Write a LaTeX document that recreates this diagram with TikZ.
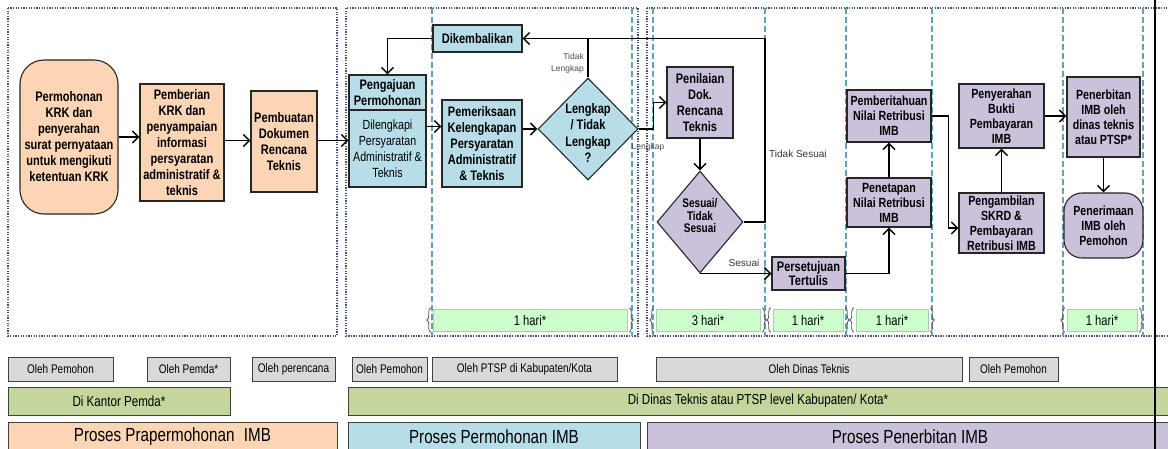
\documentclass[tikz,border=0pt]{standalone}
\usepackage{fontspec}
\setmainfont{Liberation Sans}[FakeStretch=0.8]
\newfontfamily\plainsans{Liberation Sans}
\usetikzlibrary{arrows.meta,shapes.geometric,decorations.pathreplacing}
\definecolor{cOr}{HTML}{FCD5B5}
\definecolor{cBl}{HTML}{B7DEE8}
\definecolor{cPu}{HTML}{CCC1DA}
\definecolor{cGr}{HTML}{D9D9D9}
\definecolor{cGn}{HTML}{C3D69B}
\definecolor{cLg}{HTML}{CCFFCC}
\definecolor{cDot}{HTML}{3F4F7F}
\definecolor{cDash}{HTML}{5FA3B5}
\tikzset{
  box/.style={draw=black!85, line width=1.1pt, align=center, inner sep=1pt,
    font=\bfseries\fontsize{13.8}{16}\selectfont},
  boxs/.style={box, font=\bfseries\fontsize{13.3}{15}\selectfont},
  boxr/.style={box, font=\fontsize{13.3}{16}\selectfont},
  por/.style={fill=cOr}, pbl/.style={fill=cBl}, ppu/.style={fill=cPu},
  dia/.style={diamond, draw=black!85, line width=1.1pt, inner sep=0pt},
  diatext/.style={align=center, inner sep=0pt},
  dotframe/.style={draw=cDot, line width=1.6pt, dash pattern=on 1.3pt off 1.3pt},
  dashline/.style={draw=cDash, line width=1.1pt, dash pattern=on 6pt off 3pt},
  conn/.style={line width=1.5pt, -{Straight Barb[length=6pt,width=12pt,line width=1.5pt]}},
  plainline/.style={line width=1.5pt},
  hari/.style={fill=cLg, draw=cLg!60!gray, line width=0.5pt, inner sep=0pt,
    minimum height=22, font=\fontsize{14}{16}\selectfont},
  brc/.style={draw=black!65, line width=0.8pt, decorate, decoration={brace,amplitude=4pt}},
  lbl/.style={inner sep=0pt, text=black!80, font=\plainsans\fontsize{10}{12}\selectfont},
  lbls/.style={inner sep=0pt, text=black!70, align=right, font=\plainsans\fontsize{8.5}{12}\selectfont},
  gbox/.style={fill=cGr, draw=black!75, line width=1pt, minimum height=24, inner sep=0pt,
    font=\fontsize{12.5}{14}\selectfont},
  kbox/.style={fill=cGn, draw=black!75, line width=1pt, minimum height=28, inner sep=0pt,
    font=\fontsize{14.5}{16}\selectfont},
  pbox/.style={draw=black!75, line width=1pt, minimum height=30, inner sep=0pt,
    font=\fontsize{19}{21}\selectfont},
}
\begin{document}
\begin{tikzpicture}[x=1pt,y=-1pt]
\clip (0,0) rectangle (1168,449);
\fill[white] (0,0) rectangle (1168,449);

% frames
\draw[dotframe] (8,8) rectangle (337,336);
\draw[dotframe] (346,8) rectangle (638,336);
\draw[dotframe] (647,8) rectangle (1185,336);
\foreach \x in {432,632,653,765,846,932,1063,1143}
  \draw[dashline] (\x,8) -- (\x,336);

% hari boxes
\node[hari, minimum width=194] (h1) at (530,320) {1 hari*};
\node[hari, minimum width=104] (h2) at (708,320) {3 hari*};
\node[hari, minimum width=70]  (h3) at (808,320) {1 hari*};
\node[hari, minimum width=72]  (h4) at (892,320) {1 hari*};
\node[hari, minimum width=70]  (h5) at (1102,320) {1 hari*};
\foreach \h in {h1,h2,h3,h4,h5}{
  \draw[brc] ([xshift=-2pt,yshift=-1pt]\h.south west) -- ([xshift=-2pt,yshift=1pt]\h.north west);
  \draw[brc] ([xshift=2pt,yshift=1pt]\h.north east) -- ([xshift=2pt,yshift=-1pt]\h.south east);
}

% Prapermohonan
\node[box, por, rounded corners=24, minimum width=98, minimum height=154] (permo) at (69,137)
  {Permohonan\\KRK dan\\penyerahan\\surat pernyataan\\untuk mengikuti\\ketentuan KRK};
\node[box, por, minimum width=84, minimum height=117] (pemb) at (182,142.5)
  {Pemberian\\KRK dan\\penyampaian\\informasi\\persyaratan\\administratif \&\\teknis};
\node[box, por, minimum width=66, minimum height=101] (pembuat) at (284,141.5)
  {Pembuatan\\Dokumen\\Rencana\\Teknis};

% Permohonan
\node[box, pbl, minimum width=77, minimum height=35] (pgh) at (387.5,92.5)
  {Pengajuan\\Permohonan};
\node[boxr, pbl, minimum width=77, minimum height=77] (pgl) at (387.5,148.5)
  {Dilengkapi\\Persyaratan\\Administratif \&\\Teknis};
\node[box, pbl, minimum width=80, minimum height=87] (pem) at (482,143.5)
  {Pemeriksaan\\Kelengkapan\\Persyaratan\\Administratif\\\& Teknis};
\node[dia, fill=cBl, minimum width=100, minimum height=102] (lk) at (588,129) {};
\node[diatext, font=\bfseries\fontsize{13.8}{16.5}\selectfont] (lkt) at (588,133)
  {Lengkap\\/ Tidak\\Lengkap\\?};
\node[box, pbl, minimum width=89, minimum height=27] (dik) at (477.5,38.5) {Dikembalikan};

% Penerbitan
\node[box, ppu, minimum width=66, minimum height=71] (pen) at (700,102.5)
  {Penilaian\\Dok.\\Rencana\\Teknis};
\node[dia, fill=cPu, minimum width=86, minimum height=102] (ss) at (700,222) {};
\node[diatext, font=\bfseries\fontsize{12.5}{12.5}\selectfont] (sst) at (700,216)
  {Sesuai/\\Tidak\\Sesuai};
\node[box, ppu, minimum width=73, minimum height=33, font=\bfseries\fontsize{13.8}{14}\selectfont] (per) at (808.5,273.5)
  {Persetujuan\\Tertulis};
\node[box, ppu, minimum width=84, minimum height=49, font=\bfseries\fontsize{13.3}{15}\selectfont] (pet) at (889,202.5)
  {Penetapan\\Nilai Retribusi\\IMB};
\node[box, ppu, minimum width=84, minimum height=52, font=\bfseries\fontsize{13.3}{15}\selectfont] (pbt) at (889,116)
  {Pemberitahuan\\Nilai Retribusi\\IMB};
\node[boxs, ppu, minimum width=85, minimum height=60] (pga) at (1001.5,223)
  {Pengambilan\\SKRD \&\\Pembayaran\\Retribusi IMB};
\node[boxs, ppu, minimum width=85, minimum height=64] (pys) at (1001.5,116)
  {Penyerahan\\Bukti\\Pembayaran\\IMB};
\node[boxs, ppu, minimum width=73, minimum height=80] (pnb) at (1103.5,117)
  {Penerbitan\\IMB oleh\\dinas teknis\\atau PTSP*};
\node[boxs, ppu, rounded corners=18, minimum width=79, minimum height=65] (pnm) at (1103.5,225.5)
  {Penerimaan\\IMB oleh\\Pemohon};

% connectors
\coordinate (ts) at (765,38.5);
\draw[conn] (permo.east) -- (permo.east -| pemb.west);
\draw[conn] ([yshift=2pt]pemb.east) -- ([yshift=2pt]pemb.east -| pembuat.west);
\draw[conn] ([yshift=1pt]pembuat.east) -- ([yshift=1pt]pembuat.east -| pgl.west);
\draw[conn] ([yshift=22pt]pgl.east) -- ([yshift=22pt]pgl.east -| pem.west);
\draw[conn] (lk.west -| pem.east) -- (lk.west);
\draw[plainline] (lk.north) -- (lk.north |- dik.east);
\draw[conn] (ss.east) -| (ts) -- (dik.east);
\draw[conn] (dik.west) -| (pgh.north);
\draw[conn] (lk.east) -- ++(15,0) |- (pen.west);
\draw[conn] (pen.south) -- (ss.north);
\draw[conn] (ss.south) -- (ss.south -| per.west);
\draw[conn] (per.east) -| (pet.south);
\draw[conn] (pet.north) -- (pbt.south);
\draw[conn] (pbt.east) -- ++(17,0) |- ([yshift=-5pt]pga.west);
\draw[conn] (pga.north) -- (pys.south);
\draw[conn] (pys.east) -- (pys.east -| pnb.west);
\draw[conn] (pnb.south) -- (pnm.north);

% labels
\node[lbls, anchor=east] (ltl) at (584,63) {Tidak\\Lengkap};
\node[lbls] (ll) at (648,147) {Lengkap};
\node[lbl, anchor=west] (lts) at (769,154) {Tidak Sesuai};
\node[lbl] (ls) at (744,263) {Sesuai};

% bottom rows
\node[gbox, minimum width=105] (g1) at (60.5,369) {Oleh Pemohon};
\node[gbox, minimum width=83]  (g2) at (188.5,369) {Oleh Pemda*};
\node[gbox, minimum width=83]  (g3) at (293.5,369) {Oleh perencana};
\node[gbox, minimum width=75]  (g4) at (389.5,369) {Oleh Pemohon};
\node[gbox, minimum width=185] (g5) at (524.5,369) {Oleh PTSP di Kabupaten/Kota};
\node[gbox, minimum width=306] (g6) at (809,369) {Oleh Dinas Teknis};
\node[gbox, minimum width=89]  (g7) at (1013.5,369) {Oleh Pemohon};
\node[kbox, minimum width=222] (k1) at (119,401) {Di Kantor Pemda*};
\node[kbox, minimum width=820] (k2) at (758,401) {Di Dinas Teknis atau PTSP level Kabupaten/ Kota*};
\node[pbox, fill=cOr, minimum width=329] (p1) at (172.5,437) {Proses Prapermohonan\enspace IMB};
\node[pbox, fill=cBl, minimum width=292] (p2) at (494,437) {Proses Permohonan IMB};
\node[pbox, fill=cPu, minimum width=526] (p3) at (910,437) {Proses Penerbitan IMB};

\draw[line width=2.5pt] (1155,0) -- (1155,449);
\end{tikzpicture}
\end{document}
